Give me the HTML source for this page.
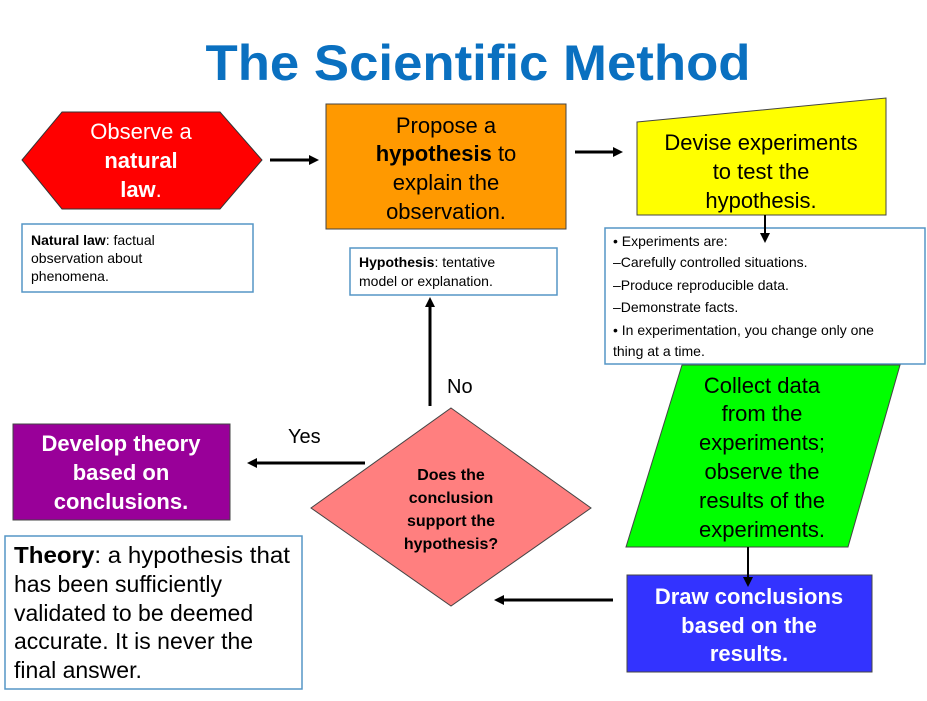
<!DOCTYPE html>
<html><head><meta charset="utf-8"><style>
html,body{margin:0;padding:0;background:#fff;}
svg{display:block;font-family:"Liberation Sans",Arial,sans-serif;}
</style></head><body>
<svg width="927" height="701" viewBox="0 0 927 701" xmlns="http://www.w3.org/2000/svg">
<defs>
<marker id="ah" markerWidth="10" markerHeight="10" refX="7" refY="5" orient="auto" markerUnits="userSpaceOnUse">
<path d="M0,0 L10,5 L0,10 Z" fill="#000"/></marker>
</defs>
<text x="478" y="80" text-anchor="middle" font-size="50" font-weight="bold" fill="#0A70C0" textLength="545" lengthAdjust="spacingAndGlyphs">The Scientific Method</text>

<polygon points="22,160 62,112 220,112 262,160 220,209 62,209" fill="#FF0000" stroke="#333" stroke-width="1"/>
<g fill="#fff" font-size="22" text-anchor="middle">
<text x="141" y="139">Observe a</text>
<text x="141" y="168" font-weight="bold">natural</text>
<text x="141" y="197"><tspan font-weight="bold">law</tspan>.</text>
</g>
<rect x="22" y="224" width="231" height="68" fill="#fff" stroke="#5596C6" stroke-width="1.5"/>
<g font-size="14" fill="#000">
<text x="31" y="245"><tspan font-weight="bold">Natural law</tspan>: factual</text>
<text x="31" y="263">observation about</text>
<text x="31" y="281">phenomena.</text>
</g>
<line x1="270" y1="160" x2="316" y2="160" stroke="#000" stroke-width="3" marker-end="url(#ah)"/>

<rect x="326" y="104" width="240" height="125" fill="#FF9900" stroke="#444" stroke-width="1"/>
<g font-size="22" text-anchor="middle" fill="#000">
<text x="446" y="133">Propose a</text>
<text x="446" y="161"><tspan font-weight="bold">hypothesis</tspan> to</text>
<text x="446" y="190">explain the</text>
<text x="446" y="219">observation.</text>
</g>
<line x1="575" y1="152" x2="620" y2="152" stroke="#000" stroke-width="3" marker-end="url(#ah)"/>

<polygon points="637,122 886,98 886,215 637,215" fill="#FFFF00" stroke="#444" stroke-width="1"/>
<g font-size="22" text-anchor="middle" fill="#000">
<text x="761" y="150">Devise experiments</text>
<text x="761" y="179">to test the</text>
<text x="761" y="208">hypothesis.</text>
</g>

<rect x="350" y="248" width="207" height="47" fill="#fff" stroke="#5596C6" stroke-width="1.5"/>
<g font-size="14" fill="#000">
<text x="359" y="267"><tspan font-weight="bold">Hypothesis</tspan>: tentative</text>
<text x="359" y="286">model or explanation.</text>
</g>

<rect x="605" y="228" width="320" height="136" fill="#fff" stroke="#5596C6" stroke-width="1.5"/>
<g font-size="14" fill="#000">
<text x="613" y="246">• Experiments are:</text>
<text x="613" y="267">–Carefully controlled situations.</text>
<text x="613" y="290">–Produce reproducible data.</text>
<text x="613" y="312">–Demonstrate facts.</text>
<text x="613" y="335">• In experimentation, you change only one</text>
<text x="613" y="356">thing at a time.</text>
</g>
<line x1="765" y1="215" x2="765" y2="240" stroke="#000" stroke-width="2" marker-end="url(#ah)"/>

<line x1="430" y1="406" x2="430" y2="300" stroke="#000" stroke-width="3" marker-end="url(#ah)"/>
<text x="447" y="393" font-size="20">No</text>

<polygon points="451,408 591,508 451,606 311,508" fill="#FF7F7F" stroke="#444" stroke-width="1"/>
<g font-size="16" font-weight="bold" text-anchor="middle" fill="#000">
<text x="451" y="480">Does the</text>
<text x="451" y="503">conclusion</text>
<text x="451" y="526">support the</text>
<text x="451" y="549">hypothesis?</text>
</g>
<text x="288" y="443" font-size="20">Yes</text>
<line x1="365" y1="463" x2="250" y2="463" stroke="#000" stroke-width="3" marker-end="url(#ah)"/>

<rect x="13" y="424" width="217" height="96" fill="#990099" stroke="#444" stroke-width="1"/>
<g font-size="22" font-weight="bold" text-anchor="middle" fill="#fff">
<text x="121" y="451">Develop theory</text>
<text x="121" y="480">based on</text>
<text x="121" y="509">conclusions.</text>
</g>

<rect x="5" y="536" width="297" height="153" fill="#fff" stroke="#5596C6" stroke-width="1.5"/>
<g font-size="23" fill="#000">
<text x="14" y="563" textLength="276" lengthAdjust="spacingAndGlyphs"><tspan font-weight="bold">Theory</tspan>: a hypothesis that</text>
<text x="14" y="592">has been sufficiently</text>
<text x="14" y="621">validated to be deemed</text>
<text x="14" y="649">accurate.  It is never the</text>
<text x="14" y="678">final answer.</text>
</g>

<polygon points="682,365 900,365 848,547 626,547" fill="#00FF00" stroke="#444" stroke-width="1"/>
<g font-size="22" text-anchor="middle" fill="#000">
<text x="762" y="393">Collect data</text>
<text x="762" y="421">from the</text>
<text x="762" y="450">experiments;</text>
<text x="762" y="479">observe the</text>
<text x="762" y="508">results of the</text>
<text x="762" y="537">experiments.</text>
</g>

<rect x="627" y="575" width="245" height="97" fill="#3333FF" stroke="#444" stroke-width="1"/>
<line x1="748" y1="547" x2="748" y2="584" stroke="#000" stroke-width="2" marker-end="url(#ah)"/>
<g font-size="22" font-weight="bold" text-anchor="middle" fill="#fff">
<text x="749" y="604">Draw conclusions</text>
<text x="749" y="633">based on the</text>
<text x="749" y="661">results.</text>
</g>
<line x1="613" y1="600" x2="497" y2="600" stroke="#000" stroke-width="3" marker-end="url(#ah)"/>
</svg>
</body></html>
